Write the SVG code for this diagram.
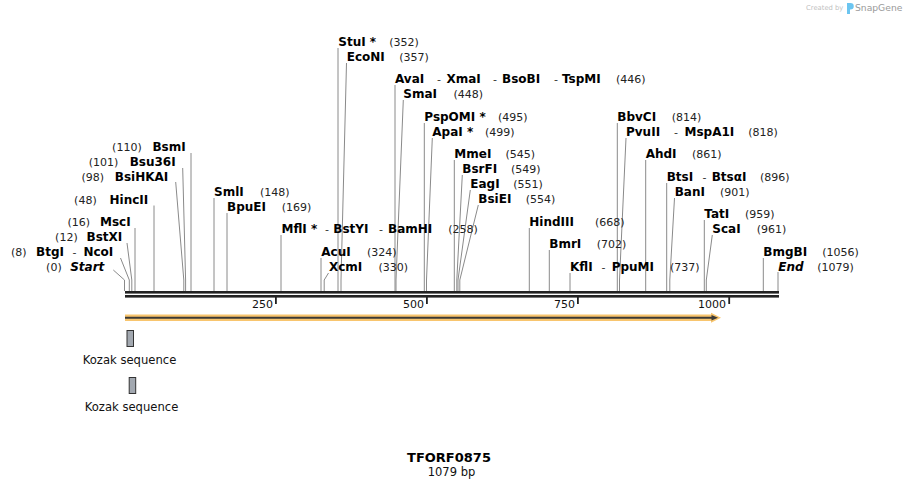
<svg xmlns="http://www.w3.org/2000/svg" width="904" height="488" viewBox="0 0 904 488">
<style>
text{font-family:"DejaVu Sans","Verdana",sans-serif;}
.n{font-size:12px;font-weight:bold;fill:#000;}
.it{font-style:italic;}
.p{font-size:11px;fill:#222;}
.d{font-size:11px;fill:#333;}
.tk{font-size:11px;fill:#111;}
.ld{fill:none;stroke:#8a8a8a;stroke-width:1;}
.bar{fill:#222;}
.kz{fill:#a2a8b0;stroke:#333;stroke-width:1;}
.kt{font-size:11.6px;fill:#111;}
</style>
<rect width="904" height="488" fill="#fff"/>

<g id="credit">
<text x="806" y="10" font-size="6.8px" fill="#bfbfbf">Created by</text>
<path d="M847,3 h3.5 a3,3 0 0 1 0,6.5 h-0.5 v4.5 h-3 z" fill="#6cc5f0"/>
<text x="855" y="11" font-size="9.2px" fill="#9a9a9a">SnapGene</text>
</g>

<g id="connectors">
<path class="ld" d="M113.3,270 L124.5,280 V291"/>
<path class="ld" d="M120.5,258 L129.3,280 V291"/>
<path class="ld" d="M127,243 L131.8,280 V291"/>
<path class="ld" d="M135,228 V291"/>
<path class="ld" d="M154,205.5 V291"/>
<path class="ld" d="M175.7,182 L183.8,280 V291"/>
<path class="ld" d="M182.7,168 L185.6,280 V291"/>
<path class="ld" d="M191,153 V291"/>
<path class="ld" d="M214,198 V291"/>
<path class="ld" d="M227,213 V291"/>
<path class="ld" d="M281,235 V291"/>
<path class="ld" d="M321,258 V291"/>
<path class="ld" d="M328.5,273 L324.2,280 V291"/>
<path class="ld" d="M338,48 V291"/>
<path class="ld" d="M346.5,63 L341,280 V291"/>
<path class="ld" d="M395,85 V291"/>
<path class="ld" d="M403.3,100 L396,280 V291"/>
<path class="ld" d="M424.3,123 V291"/>
<path class="ld" d="M432.3,138 L426.5,280 V291"/>
<path class="ld" d="M454.3,160 V291"/>
<path class="ld" d="M462.3,175 L456.8,280 V291"/>
<path class="ld" d="M470.3,190 L458,280 V291"/>
<path class="ld" d="M478.3,205 L459.8,280 V291"/>
<path class="ld" d="M529.3,228 V291"/>
<path class="ld" d="M549.3,250 V291"/>
<path class="ld" d="M570,273 V291"/>
<path class="ld" d="M617.3,123 V291"/>
<path class="ld" d="M626,138 L619.5,280 V291"/>
<path class="ld" d="M645.7,160 V291"/>
<path class="ld" d="M666.7,183 V291"/>
<path class="ld" d="M674.5,198 L669.8,280 V291"/>
<path class="ld" d="M704.3,220 V291"/>
<path class="ld" d="M712.3,235 L706.3,280 V291"/>
<path class="ld" d="M763.3,258 V291"/>
<path class="ld" d="M778,272 V291"/>
</g>

<g id="sequence">
<rect class="bar" x="125" y="291" width="654" height="2.6"/>
<rect class="bar" x="125" y="295" width="654" height="2.6"/>
<rect class="bar" x="275" y="297" width="1.8" height="7"/>
<rect class="bar" x="426" y="297" width="1.8" height="7"/>
<rect class="bar" x="577" y="297" width="1.8" height="7"/>
<rect class="bar" x="728.3" y="297" width="1.8" height="7"/>
<text class="tk" x="273" y="307.5" text-anchor="end">250</text>
<text class="tk" x="424" y="307.5" text-anchor="end">500</text>
<text class="tk" x="575" y="307.5" text-anchor="end">750</text>
<text class="tk" x="726" y="307.5" text-anchor="end">1000</text>
</g>

<g id="orf">
<path d="M125,317.8 H713" stroke="#f8c56e" stroke-width="6.5" fill="none"/>
<polygon points="711,312.8 721,317.8 711,322.8" fill="#f8c56e"/>
<path d="M125,317.8 H713" stroke="#3c3a36" stroke-width="2" fill="none"/>
<polygon points="711.5,315 718,317.8 711.5,320.6" fill="#3c3a36"/>
</g>

<g id="kozak1">
<rect class="kz" x="127" y="330.5" width="6.5" height="16"/>
<text class="kt" x="129.5" y="364" text-anchor="middle">Kozak sequence</text>
</g>
<g id="kozak2">
<rect class="kz" x="129.2" y="377.5" width="6.5" height="16"/>
<text class="kt" x="131.5" y="411" text-anchor="middle">Kozak sequence</text>
</g>

<g id="title">
<text x="449" y="462" font-size="13px" font-weight="bold" text-anchor="middle" fill="#000">TFORF0875</text>
<text x="451.5" y="475.5" font-size="11.5px" text-anchor="middle" fill="#111">1079 bp</text>
</g>

<!-- left-side labels -->
<g id="site-start"><text class="p" x="61.7" y="270.5" text-anchor="end">(0)</text><text class="n it" x="104.3" y="270.5" text-anchor="end">Start</text></g>
<g id="site-btgi-ncoi"><text class="p" x="11" y="256">(8)</text><text class="n" x="36" y="256">BtgI</text><text class="d" x="72.5" y="256">-</text><text class="n" x="113.3" y="256" text-anchor="end">NcoI</text></g>
<g id="site-bstxi"><text class="p" x="77.7" y="241" text-anchor="end">(12)</text><text class="n" x="122.3" y="241" text-anchor="end">BstXI</text></g>
<g id="site-msci"><text class="p" x="90" y="226" text-anchor="end">(16)</text><text class="n" x="130.7" y="226" text-anchor="end">MscI</text></g>
<g id="site-hincii"><text class="p" x="96.7" y="203.5" text-anchor="end">(48)</text><text class="n" x="148.3" y="203.5" text-anchor="end">HincII</text></g>
<g id="site-bsihkai"><text class="p" x="104" y="181" text-anchor="end">(98)</text><text class="n" x="168.3" y="181" text-anchor="end">BsiHKAI</text></g>
<g id="site-bsu36i"><text class="p" x="118.3" y="166" text-anchor="end">(101)</text><text class="n" x="175.7" y="166" text-anchor="end">Bsu36I</text></g>
<g id="site-bsmi"><text class="p" x="141.7" y="151" text-anchor="end">(110)</text><text class="n" x="185.7" y="151" text-anchor="end">BsmI</text></g>

<!-- right-side labels -->
<g id="site-smli"><text class="n" x="214" y="196">SmlI</text><text class="p" x="260" y="196">(148)</text></g>
<g id="site-bpuei"><text class="n" x="227" y="211">BpuEI</text><text class="p" x="281.7" y="211">(169)</text></g>
<g id="site-mfli-bstyi-bamhi"><text class="n" x="281.5" y="233">MflI *</text><text class="d" x="325" y="233">-</text><text class="n" x="333.3" y="233">BstYI</text><text class="d" x="379" y="233">-</text><text class="n" x="388" y="233">BamHI</text><text class="p" x="448.3" y="233">(258)</text></g>
<g id="site-acui"><text class="n" x="321.3" y="256">AcuI</text><text class="p" x="367" y="256">(324)</text></g>
<g id="site-xcmi"><text class="n" x="329" y="271">XcmI</text><text class="p" x="378.5" y="271">(330)</text></g>
<g id="site-stui"><text class="n" x="338.3" y="46">StuI *</text><text class="p" x="389.3" y="46">(352)</text></g>
<g id="site-econi"><text class="n" x="346.7" y="61">EcoNI</text><text class="p" x="399.3" y="61">(357)</text></g>
<g id="site-avai-xmai-bsobi-tspmi"><text class="n" x="395" y="83">AvaI</text><text class="d" x="437" y="83">-</text><text class="n" x="446.5" y="83">XmaI</text><text class="d" x="493" y="83">-</text><text class="n" x="502" y="83">BsoBI</text><text class="d" x="554" y="83">-</text><text class="n" x="562" y="83">TspMI</text><text class="p" x="616" y="83">(446)</text></g>
<g id="site-smai"><text class="n" x="403.3" y="98">SmaI</text><text class="p" x="453.5" y="98">(448)</text></g>
<g id="site-pspomi"><text class="n" x="424.3" y="121">PspOMI *</text><text class="p" x="498" y="121">(495)</text></g>
<g id="site-apai"><text class="n" x="432.3" y="136">ApaI *</text><text class="p" x="485" y="136">(499)</text></g>
<g id="site-mmei"><text class="n" x="454.3" y="158">MmeI</text><text class="p" x="505.5" y="158">(545)</text></g>
<g id="site-bsrfi"><text class="n" x="462.3" y="173">BsrFI</text><text class="p" x="511" y="173">(549)</text></g>
<g id="site-eagi"><text class="n" x="470.3" y="188">EagI</text><text class="p" x="513.3" y="188">(551)</text></g>
<g id="site-bsiei"><text class="n" x="478.3" y="203">BsiEI</text><text class="p" x="525.7" y="203">(554)</text></g>
<g id="site-hindiii"><text class="n" x="529.3" y="226">HindIII</text><text class="p" x="595" y="226">(668)</text></g>
<g id="site-bmri"><text class="n" x="549.3" y="248">BmrI</text><text class="p" x="596.7" y="248">(702)</text></g>
<g id="site-kfli-ppumi"><text class="n" x="570" y="271">KflI</text><text class="d" x="601.5" y="271">-</text><text class="n" x="611.7" y="271">PpuMI</text><text class="p" x="670" y="271">(737)</text></g>
<g id="site-bbvci"><text class="n" x="617.3" y="121">BbvCI</text><text class="p" x="671.7" y="121">(814)</text></g>
<g id="site-pvuii-mspa1i"><text class="n" x="626" y="136">PvuII</text><text class="d" x="674" y="136">-</text><text class="n" x="684.5" y="136">MspA1I</text><text class="p" x="748.3" y="136">(818)</text></g>
<g id="site-ahdi"><text class="n" x="645.7" y="158">AhdI</text><text class="p" x="692" y="158">(861)</text></g>
<g id="site-btsi-btsai"><text class="n" x="666.7" y="181">BtsI</text><text class="d" x="702.5" y="181">-</text><text class="n" x="711.7" y="181">BtsαI</text><text class="p" x="760" y="181">(896)</text></g>
<g id="site-bani"><text class="n" x="674.7" y="196">BanI</text><text class="p" x="720" y="196">(901)</text></g>
<g id="site-tati"><text class="n" x="704.3" y="218">TatI</text><text class="p" x="745" y="218">(959)</text></g>
<g id="site-scai"><text class="n" x="712.3" y="233">ScaI</text><text class="p" x="756.7" y="233">(961)</text></g>
<g id="site-bmgbi"><text class="n" x="763.3" y="256">BmgBI</text><text class="p" x="822.3" y="256">(1056)</text></g>
<g id="site-end"><text class="n it" x="778.3" y="271">End</text><text class="p" x="817.3" y="271">(1079)</text></g>
</svg>
